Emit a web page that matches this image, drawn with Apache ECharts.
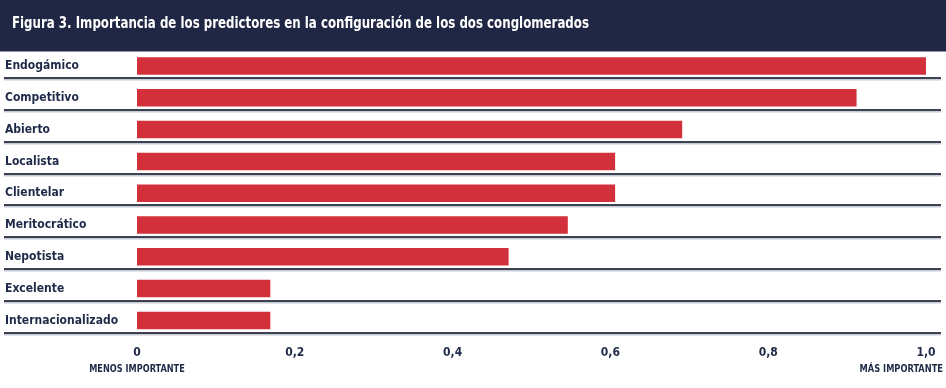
<!DOCTYPE html>
<html>
<head>
<meta charset="utf-8">
<script src="https://cdn.jsdelivr.net/npm/echarts@6/dist/echarts.min.js"></script>
<style>html,body{margin:0;padding:0;background:#fff;}#c{width:946px;height:388px;}</style>
</head>
<body>
<div id="c"></div>
<script>
const titleText = 'Figura 3. Importancia de los predictores en la configuración de los dos conglomerados';
const categories = ['Endogámico','Competitivo','Abierto','Localista','Clientelar','Meritocrático','Nepotista','Excelente','Internacionalizado'];
const values = [1.0, 0.912, 0.691, 0.606, 0.606, 0.546, 0.471, 0.169, 0.169];
const tickLabels = ['0','0,2','0,4','0,6','0,8','1,0'];
const lowLabel = 'MENOS IMPORTANTE';
const highLabel = 'MÁS IMPORTANTE';

const FONT = '"DejaVu Sans Condensed","Liberation Sans Narrow","Roboto",sans-serif';
const NAVY = '#1f2744';
const TXT = '#1f2a48';

const chart = echarts.init(document.getElementById('c'), null, {renderer:'canvas'});
chart.setOption({
  animation:false,
  backgroundColor:'#fff',
  graphic:[
    {type:'rect', x:0, y:0, shape:{width:946, height:51.5}, style:{fill:NAVY}, z:100},
    {type:'text', x:12, y:24.5, scaleX:0.875, originX:0, originY:0, z:101,
     style:{text:titleText, fill:'#fff', font:'bold 15px '+FONT, verticalAlign:'middle', align:'left'}},
    {type:'text', x:137, y:369, scaleX:0.91, originX:0, originY:0, z:101,
     style:{text:lowLabel, fill:TXT, font:'bold 10px '+FONT, verticalAlign:'middle', align:'center'}},
    {type:'text', x:943, y:369, scaleX:0.92, originX:0, originY:0, z:101,
     style:{text:highLabel, fill:TXT, font:'bold 10px '+FONT, verticalAlign:'middle', align:'right'}}
  ],
  grid:[
    {left:137, right:20, top:50.1, height:286.2},
    {left:4, right:5, top:46.2, height:286.2}
  ],
  xAxis:[
    {type:'value', gridIndex:0, min:0, max:1, interval:0.2,
     axisLine:{show:false}, axisTick:{show:false}, splitLine:{show:false},
     axisLabel:{margin:11, color:TXT, fontFamily:FONT, fontWeight:'bold', fontSize:12,
       formatter:(v)=>tickLabels[Math.round(v/0.2)]}},
    {type:'value', gridIndex:1, min:0, max:1, show:false}
  ],
  yAxis:[
    {type:'category', gridIndex:0, data:categories, inverse:true,
     axisLine:{show:false}, axisTick:{show:false}, splitLine:{show:false},
     axisLabel:{margin:132, align:'left', color:TXT, fontFamily:FONT, fontWeight:'bold', fontSize:12}},
    {type:'category', gridIndex:1, data:categories, inverse:true,
     axisLine:{show:false}, axisTick:{show:false}, axisLabel:{show:false},
     splitLine:{show:true, lineStyle:{color:'#3c4252', width:2, shadowColor:'#c5cad3', shadowOffsetY:1.5, shadowBlur:0}}}
  ],
  series:[
    {type:'bar', xAxisIndex:0, yAxisIndex:0, data:values, barWidth:17.5,
     itemStyle:{color:'#d2313b'}, z:3},
    {type:'bar', xAxisIndex:1, yAxisIndex:1, data:[], silent:true}
  ]
});
</script>
</body>
</html>
